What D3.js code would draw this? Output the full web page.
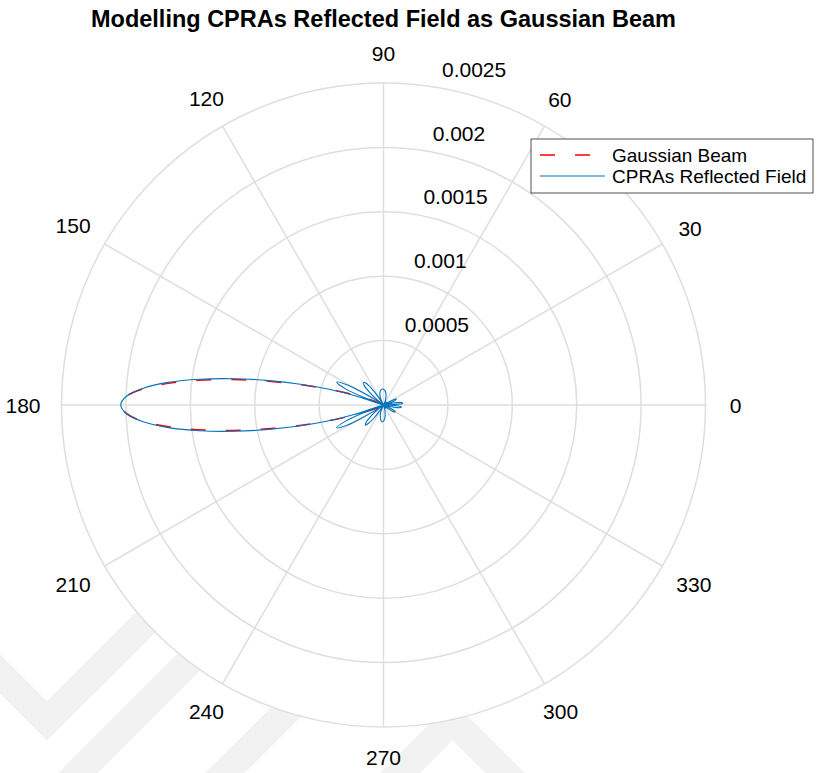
<!DOCTYPE html>
<html>
<head>
<meta charset="utf-8">
<script src="https://cdn.jsdelivr.net/npm/d3@7"></script>
<style>
  body { margin: 0; background: #fff; }
  text { font-family: "Liberation Sans", Arial, Helvetica, sans-serif; fill: #000; }
</style>
</head>
<body>
<svg class="chart" width="819" height="773"></svg>
<script>
const title = 'Modelling CPRAs Reflected Field as Gaussian Beam';
const thetaTicks = [0, 30, 60, 90, 120, 150, 180, 210, 240, 270, 300, 330];
const rTicks = [0.0005, 0.001, 0.0015, 0.002, 0.0025];
const rTickLabels = ['0.0005', '0.001', '0.0015', '0.002', '0.0025'];
const seriesNames = ['Gaussian Beam', 'CPRAs Reflected Field'];

// angles in degrees (counter-clockwise from 0 at the right)
const gaussAngles = [146, 148, 150, 152, 154, 156, 158, 160, 162, 164, 166, 168, 170, 172, 174, 176, 178, 180,
  182, 184, 186, 188, 190, 192, 194, 196, 198, 200, 202, 204, 206, 208, 210, 212, 214];
const gaussValues = [0.000002, 0.000005, 0.00001, 0.00002, 0.000037, 0.000068, 0.000116, 0.000191, 0.0003,
  0.000448, 0.00064, 0.00087, 0.001129, 0.001397, 0.001649, 0.001856, 0.001992, 0.00204,
  0.001992, 0.001856, 0.001649, 0.001397, 0.001129, 0.00087, 0.00064, 0.000448, 0.0003, 0.000191,
  0.000116, 0.000068, 0.000037, 0.00002, 0.00001, 0.000005, 0.000002];

const cpraAngles = [0, 2, 5, 8, 11, 14, 18, 22, 25, 28, 32, 35, 40, 47, 54, 60, 66, 72, 78, 84, 90, 95, 100,
  106, 112, 117, 120, 123, 126, 129, 132, 135, 138, 141, 145, 147, 149, 151, 154, 157, 159, 161,
  162, 164, 166, 168, 170, 172, 174, 176, 178, 180, 182, 184, 186, 188, 190, 192, 194, 196, 198,
  199, 201, 203, 206, 209, 211, 213, 215, 219, 222, 225, 228, 231, 234, 237, 240, 246, 252, 258,
  264, 270, 276, 282, 288, 292, 300, 306, 312, 318, 321, 327, 330, 333, 338, 341, 345, 348, 351, 354, 357, 359];
const cpraValues = [0, 0.00008, 0.00015, 0.00014, 0.00008, 0, 0.00006, 0.0001, 0.00011, 0.00008, 0.00003, 0,
  0.00002, 0.00003, 0.00002, 0, 0.00003, 0.00006, 0.00009, 0.000112, 0.000122, 0.000124, 0.000118,
  0.0001, 0.00007, 0.00003, 0, 0.00008, 0.00016, 0.00022, 0.000235, 0.00021, 0.00014, 0.00006, 0,
  0.00008, 0.0002, 0.00032, 0.000404, 0.00032, 0.00016, 0,
  0.00024, 0.00045, 0.000665, 0.00091, 0.001175, 0.00144, 0.00168, 0.00187, 0.001995, 0.00204,
  0.001995, 0.00187, 0.00168, 0.00144, 0.001175, 0.00091, 0.000665, 0.00045, 0.00024,
  0, 0.00016, 0.00032, 0.000404, 0.00032, 0.0002, 0.00008, 0, 0.00007, 0.00014, 0.00019, 0.00021,
  0.00018, 0.00012, 0.00005, 0, 0.00004, 0.00008, 0.00011,
  0.00013, 0.000125, 0.0001, 0.00006, 0.00002, 0, 0.00002, 0.00003, 0.00002, 0, 0.00004, 0.0001, 0.000105,
  0.00009, 0.00003, 0, 0, 0.00008, 0.00013, 0.00014, 0.0001, 0.00004];

// faint background watermark (decoration, behind the polar disk)
const watermark = [
  [[-40, 634], [47, 721], [220, 548]],
  [[40, 811], [300, 551]],
  [[187, 811], [420, 578]],
  [[362, 811], [452.5, 720.5], [543, 811]],
];

const [width, height] = [819, 773];
const [cx, cy] = [383.5, 405];
const svg = d3.select('.chart').attr('viewBox', `0 0 ${width} ${height}`);
const r = d3.scaleLinear().domain([0, 0.0025]).range([0, 322]);
const toRad = (deg) => (90 - deg) * Math.PI / 180;
const gridColor = '#dedede';
const dash = '15,20';

svg.append('g')
  .selectAll('polyline')
  .data(watermark)
  .enter()
  .append('polyline')
  .attr('points', (pts) => pts.map((p) => p.join(',')).join(' '))
  .attr('fill', 'none')
  .attr('stroke', '#f2f2f2')
  .attr('stroke-width', 28)
  .attr('stroke-linejoin', 'miter');

const plot = svg.append('g').attr('transform', `translate(${cx},${cy})`);

plot.append('circle').attr('r', r(0.0025)).attr('fill', '#fff');

plot.append('g')
  .selectAll('line')
  .data(thetaTicks)
  .enter()
  .append('line')
  .attr('x1', 0)
  .attr('y1', 0)
  .attr('x2', (t) => r(0.0025) * Math.cos(t * Math.PI / 180))
  .attr('y2', (t) => -r(0.0025) * Math.sin(t * Math.PI / 180))
  .attr('stroke', gridColor)
  .attr('stroke-width', 1.5);

plot.append('g')
  .selectAll('circle')
  .data(rTicks)
  .enter()
  .append('circle')
  .attr('r', (v) => r(v))
  .attr('fill', 'none')
  .attr('stroke', gridColor)
  .attr('stroke-width', 1.5);

const gaussData = gaussAngles.map((a, i) => [a, gaussValues[i]]);
const cpraData = cpraAngles.map((a, i) => [a, cpraValues[i]]);

const radial = d3.lineRadial()
  .angle((d) => toRad(d[0]))
  .radius((d) => r(d[1]));

plot.append('path')
  .attr('d', radial.curve(d3.curveCatmullRom.alpha(0.5))(gaussData))
  .attr('fill', 'none')
  .attr('stroke', '#ff0000')
  .attr('stroke-width', 1.5)
  .attr('stroke-dasharray', dash);

plot.append('path')
  .attr('d', radial.curve(d3.curveCatmullRomClosed.alpha(0.5))(cpraData))
  .attr('fill', 'none')
  .attr('stroke', '#0072bd')
  .attr('stroke-width', 1.1);

// angle labels
plot.append('g')
  .selectAll('text')
  .data(thetaTicks)
  .enter()
  .append('text')
  .attr('font-size', 21)
  .attr('text-anchor', 'middle')
  .attr('dy', '0.36em')
  .text((t) => t)
  .each(function (t) {
    const w = this.getComputedTextLength();
    const a = t * Math.PI / 180;
    const rr = 352 + Math.max(0, w / 2 - 9) * Math.cos(a) ** 2;
    d3.select(this).attr('x', rr * Math.cos(a)).attr('y', -rr * Math.sin(a));
  });

// radial tick labels
const rAxisAngle = 81.7 * Math.PI / 180;
plot.append('g')
  .selectAll('text')
  .data(rTicks)
  .enter()
  .append('text')
  .attr('font-size', 21)
  .attr('x', (v) => r(v) * Math.cos(rAxisAngle) + 12)
  .attr('y', (v) => -r(v) * Math.sin(rAxisAngle) - 17)
  .attr('dy', '0.36em')
  .text((v, i) => rTickLabels[i]);

svg.append('text')
  .attr('x', cx)
  .attr('y', 27)
  .attr('text-anchor', 'middle')
  .attr('font-size', 23.5)
  .attr('font-weight', 'bold')
  .text(title);

// legend
const legend = svg.append('g').attr('transform', 'translate(531,139)');
legend.append('rect')
  .attr('width', 282)
  .attr('height', 54)
  .attr('fill', '#fff')
  .attr('stroke', '#262626')
  .attr('stroke-width', 0.8);
const rows = legend.selectAll('g')
  .data(seriesNames)
  .enter()
  .append('g')
  .attr('transform', (d, i) => `translate(0,${16 + i * 21})`);
rows.append('line')
  .attr('x1', 9)
  .attr('x2', 74)
  .attr('stroke', (d, i) => (i === 0 ? '#ff0000' : '#0072bd'))
  .attr('stroke-width', (d, i) => (i === 0 ? 1.5 : 1.1))
  .attr('stroke-dasharray', (d, i) => (i === 0 ? dash : null));
rows.append('text')
  .attr('x', 81)
  .attr('dy', '0.36em')
  .attr('font-size', 19)
  .text((d) => d);
</script>
</body>
</html>
